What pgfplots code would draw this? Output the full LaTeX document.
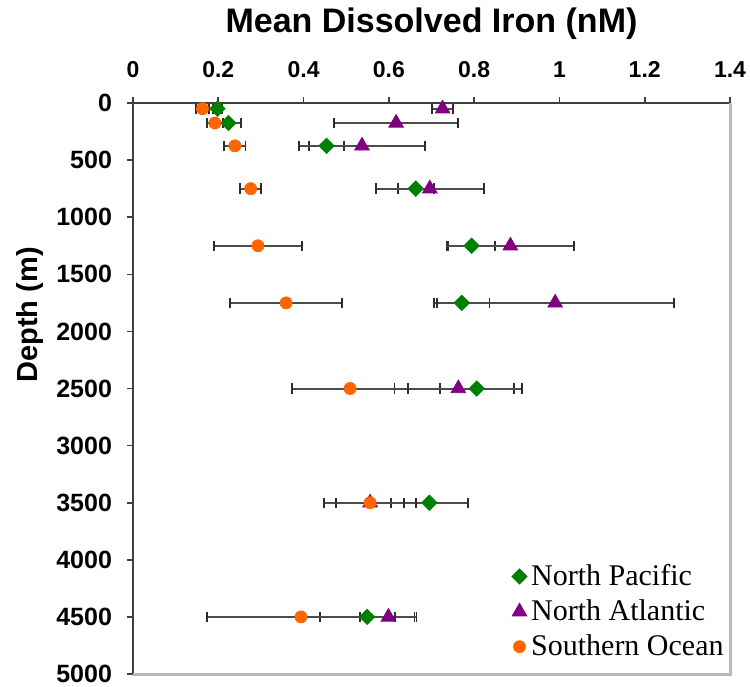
\documentclass[border=0pt]{standalone}
\usepackage{fontspec}
\setmainfont{Liberation Sans}
\newfontfamily\seriffont{Liberation Serif}
\usepackage{pgfplots}
\pgfplotsset{compat=1.18}
\usepackage{pgfplotstable}
\definecolor{npgreen}{RGB}{0,128,0}
\definecolor{napurple}{RGB}{128,0,128}
\definecolor{soorange}{RGB}{255,102,0}

\pgfplotstableread{
d x e
50 0.198 0.010
175 0.224 0.029
375 0.454 0.041
750 0.663 0.042
1250 0.794 0.055
1750 0.771 0.065
2500 0.806 0.087
3500 0.695 0.090
4500 0.549 0.111
}\pacific
\pgfplotstableread{
d x e
50 0.726 0.024
175 0.617 0.145
375 0.537 0.148
750 0.696 0.127
1250 0.885 0.150
1750 0.990 0.278
2500 0.763 0.150
3500 0.556 0.108
4500 0.599 0.066
}\atlantic
\pgfplotstableread{
d x e
50 0.163 0.016
175 0.192 0.019
375 0.239 0.025
750 0.276 0.025
1250 0.293 0.103
1750 0.359 0.132
2500 0.509 0.136
3500 0.556 0.080
4500 0.394 0.220
}\southern

\pgfplotsset{errstyle/.style={forget plot, draw=none, mark=none,
  error bars/.cd, x dir=both, x explicit, error mark=|,
  error bar style={draw=gray!60!black, line width=1pt},
  error mark options={draw=gray!35!black, line width=0.9pt, mark size=2.6pt}}}

\begin{document}
\begin{tikzpicture}[x=1pt,y=1pt]
\useasboundingbox (-66.5,-6) rectangle (308.5,337);
\begin{axis}[
  at={(0,0)}, anchor=south west, scale only axis,
  width=298.5pt, height=285.5pt,
  xmin=0, xmax=1.4, ymin=0, ymax=5000, y dir=reverse,
  clip=false,
  axis x line=top, axis y line=left,
  axis line style={-, black!75, line width=0.9pt},
  xtick={0,0.2,0.4,0.6,0.8,1,1.2,1.4},
  ytick={0,500,1000,1500,2000,2500,3000,3500,4000,4500,5000},
  tick align=outside, major tick length=3pt,
  tick style={black!75, line width=0.8pt},
  /pgf/number format/assume math mode=true,
  /pgf/number format/1000 sep={},
  xticklabel style={font=\fontsize{11.5}{12}\selectfont\bfseries, yshift=6pt},
  yticklabel style={font=\fontsize{12.5}{13}\selectfont\bfseries, xshift=-4pt},
  xlabel={Mean Dissolved Iron (nM)},
  xlabel style={font=\fontsize{17}{18}\selectfont\bfseries, yshift=4pt},
  ylabel={Depth (m)},
  ylabel style={font=\fontsize{14.5}{15}\selectfont\bfseries,
    at={(axis description cs:-0.1725,0.629)}, anchor=center},
  legend style={draw=none, fill=none, at={(1,0)}, anchor=south east,
    xshift=2pt, yshift=3.5pt, row sep=1.6pt,
    font=\seriffont\fontsize{15}{15}\selectfont},
  legend cell align=left,
  legend image code/.code={\draw[mark repeat=2,mark phase=2,#1] plot coordinates {(0cm,0cm)(0.15cm,0cm)(0.3cm,0cm)};},
]
\draw[gray!55, line width=1.5pt] (axis cs:1.4,0) -- (axis cs:1.4,5000) -- (axis cs:0,5000);

\addlegendimage{only marks, mark=square*, mark size=2.7pt, mark options={rotate=45, fill=npgreen, draw=npgreen}}
\addlegendentry{North Pacific}
\addlegendimage{only marks, mark=triangle*, mark size=4.2pt, mark options={fill=napurple, draw=napurple}}
\addlegendentry{North Atlantic}
\addlegendimage{only marks, mark=*, mark size=3pt, mark options={fill=soorange, draw=soorange}}
\addlegendentry{Southern Ocean}

\addplot[errstyle] table[x=x, y=d, x error=e]{\pacific};
\addplot[errstyle] table[x=x, y=d, x error=e]{\atlantic};
\addplot[errstyle] table[x=x, y=d, x error=e]{\southern};

\addplot[forget plot, only marks, mark=triangle*, mark size=4.2pt, mark options={fill=napurple, draw=napurple}]
  table[x=x, y=d]{\atlantic};
\addplot[forget plot, only marks, mark=*, mark size=3pt, mark options={fill=soorange, draw=soorange}]
  table[x=x, y=d]{\southern};
\addplot[forget plot, only marks, mark=square*, mark size=2.7pt, mark options={rotate=45, fill=npgreen, draw=npgreen}]
  table[x=x, y=d]{\pacific};
\end{axis}
\end{tikzpicture}
\end{document}
